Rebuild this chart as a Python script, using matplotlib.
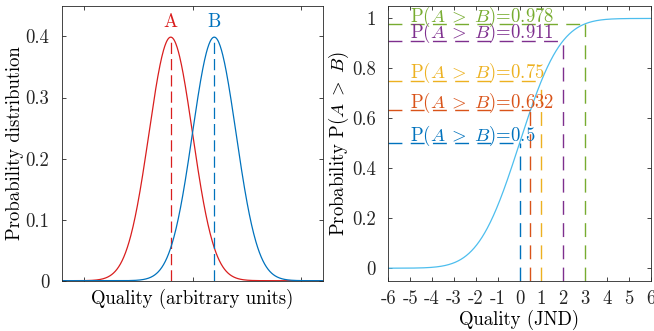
import numpy as np
import matplotlib
matplotlib.use("Agg")
import matplotlib.pyplot as plt
from math import erf

plt.rcParams['font.family'] = 'serif'
plt.rcParams['font.serif'] = ['cmr10', 'DejaVu Serif']
plt.rcParams['mathtext.fontset'] = 'cm'
plt.rcParams['axes.unicode_minus'] = False
fs = 13.5

# left panel: two normal distributions (mean, sigma)
names = ['A', 'B']
means = [-1.0, 1.0]
sigma = 1.0
left_colors = ['#D91E1E', '#0072BD']

# right panel: JND differences and their probabilities
jnd = [0, 0.5, 1, 2, 3]
probs = [0.5, 0.632, 0.75, 0.911, 0.978]
prob_labels = ['0.5', '0.632', '0.75', '0.911', '0.978']
right_colors = ['#0072BD', '#D95319', '#EDB120', '#7E2F8E', '#77AC30']
curve_color = '#4DBEEE'
jnd_scale = 0.6745  # 1 JND -> P = 0.75

axc = '#262626'

fig = plt.figure(figsize=(6.54, 3.31), dpi=100)
ax1 = fig.add_axes([0.0948, 0.152, 0.3991, 0.830])
ax2 = fig.add_axes([0.5937, 0.152, 0.4013, 0.830])

x = np.linspace(-6, 6, 600)
for nm, mu, c in zip(names, means, left_colors):
    pdf = np.exp(-0.5 * ((x - mu) / sigma) ** 2) / (sigma * np.sqrt(2 * np.pi))
    peak = 1 / (sigma * np.sqrt(2 * np.pi))
    ax1.plot(x, pdf, color=c, lw=0.9)
    ax1.plot([mu, mu], [0, peak], color=c, lw=0.9, dashes=(9, 4))
    ax1.text(mu, peak + 0.01, nm, color=c, ha='center', va='bottom', fontsize=fs)

ax1.set_xlim(-6, 6)
ax1.set_ylim(0, 0.45)
ax1.set_xticks([-5, 0, 5])
ax1.set_xticklabels([])
ax1.set_yticks([0, 0.1, 0.2, 0.3, 0.4])
ax1.set_yticklabels(['0', '0.1', '0.2', '0.3', '0.4'])
ax1.set_xlabel('Quality (arbitrary units)', fontsize=fs, labelpad=-1)
ax1.set_ylabel('Probability distribution', fontsize=fs, labelpad=1)

cdf = np.array([0.5 * (1 + erf(v * jnd_scale / np.sqrt(2))) for v in x])
ax2.plot(x, cdf, color=curve_color, lw=0.9)
for j, p, lab, c in zip(jnd, probs, prob_labels, right_colors):
    ax2.plot([-6, j], [p, p], color=c, lw=1.0, dashes=(10, 6))
    ax2.plot([j, j], [-0.05, p], color=c, lw=1.0, dashes=(10, 6))
    ax2.text(-5, p + 0.01, r'P$(A\;>\;B)$=' + lab, color=c, ha='left',
             va='baseline', fontsize=fs)

ax2.set_xlim(-6, 6)
ax2.set_ylim(-0.05, 1.05)
ticks = list(range(-6, 7))
ax2.set_xticks(ticks)
ax2.set_xticklabels([str(t) for t in ticks])
ax2.set_yticks([0, 0.2, 0.4, 0.6, 0.8, 1])
ax2.set_yticklabels(['0', '0.2', '0.4', '0.6', '0.8', '1'])
ax2.set_xlabel('Quality (JND)', fontsize=fs, labelpad=1)
ax2.set_ylabel(r'Probability P$(A\;>\;B)$', fontsize=fs, labelpad=1)

for ax in (ax1, ax2):
    ax.tick_params(direction='in', length=3, width=0.6, top=True, right=True,
                   colors=axc, labelsize=fs)
    ax.tick_params(axis='x', pad=7)
    ax.tick_params(axis='y', pad=9)
    for s in ax.spines.values():
        s.set_color(axc)
        s.set_linewidth(0.6)

fig.savefig('out.png', dpi=100)
